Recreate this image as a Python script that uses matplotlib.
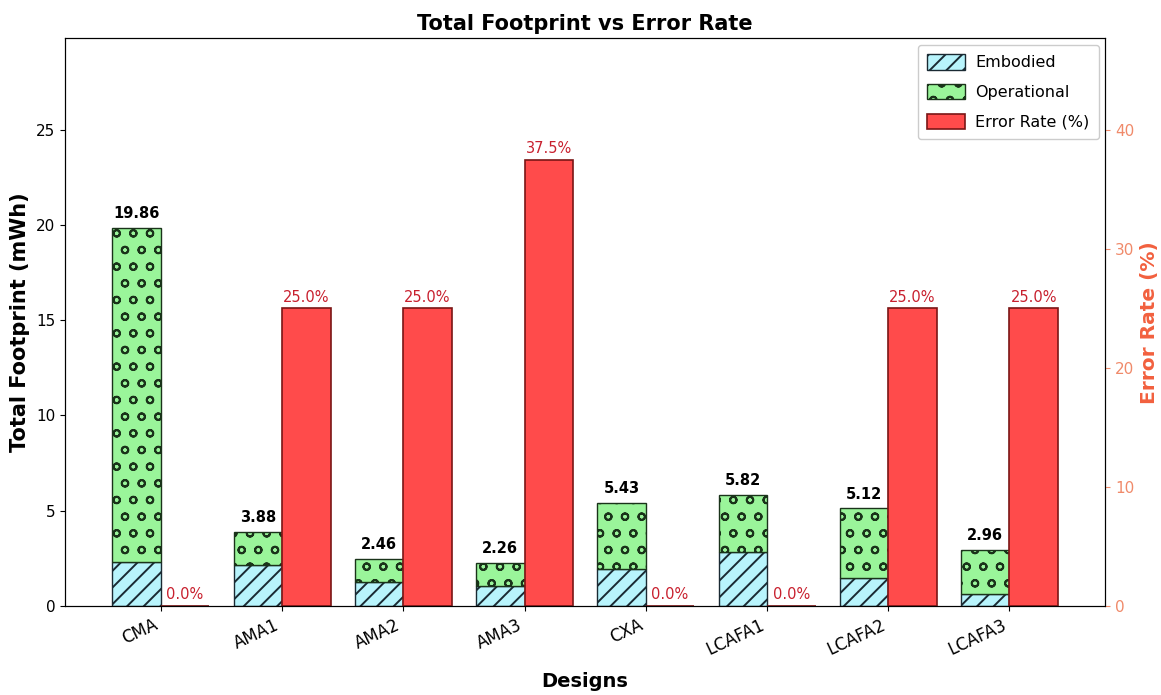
import matplotlib
matplotlib.use("Agg")
import matplotlib.pyplot as plt
import numpy as np

designs = ["CMA", "AMA1", "AMA2", "AMA3", "CXA", "LCAFA1", "LCAFA2", "LCAFA3"]
totals = [19.86, 3.88, 2.46, 2.26, 5.43, 5.82, 5.12, 2.96]
embodied = [2.30, 2.18, 1.25, 1.07, 1.97, 2.85, 1.46, 0.62]
operational = [t - e for t, e in zip(totals, embodied)]
error_rate = [0.0, 25.0, 25.0, 37.5, 0.0, 0.0, 25.0, 25.0]

plt.rcParams["hatch.linewidth"] = 1.4

x = np.arange(len(designs))
w = 0.4

fig, ax = plt.subplots(figsize=(11.61, 6.95), dpi=100)
fig.subplots_adjust(left=0.056, right=0.952, top=0.945, bottom=0.128)
ax2 = ax.twinx()

b1 = ax.bar(x - w / 2, embodied, w, color="#b8f4fc", edgecolor="#1a2a33",
            hatch="//", linewidth=1.0, label="Embodied")
b2 = ax.bar(x - w / 2, operational, w, bottom=embodied, color="#9af59a",
            edgecolor="#1a331a", hatch="o", linewidth=1.0, label="Operational")
b3 = ax2.bar(x + w / 2, error_rate, w, color="#ff4b4b", edgecolor="#7a1515",
             linewidth=1.2, label="Error Rate (%)")

for xi, t in zip(x, totals):
    ax.text(xi - w / 2, t + 0.35, f"{t:.2f}", ha="center", va="bottom",
            fontsize=10.5, fontweight="bold", color="black")
for xi, e in zip(x, error_rate):
    ax2.text(xi + w / 2, e + 0.3, f"{e:.1f}%", ha="center", va="bottom",
             fontsize=10.5, color="#c8202e")

ax.set_ylim(0, 29.8)
ax2.set_ylim(0, 47.7)
ax.set_xticks(x)
ax.set_xticklabels(designs, rotation=25, ha="right", fontsize=12)
ax.tick_params(axis="y", labelsize=11)
ax2.tick_params(axis="y", labelsize=11, colors="#f08a6a")
ax2.set_yticks([0, 10, 20, 30, 40])

ax.set_xlabel("Designs", fontsize=14, fontweight="bold", labelpad=10)
ax.set_ylabel("Total Footprint (mWh)", fontsize=15, fontweight="bold")
ax2.set_ylabel("Error Rate (%)", fontsize=14.5, fontweight="bold", color="#f2603e")
ax.set_title("Total Footprint vs Error Rate", fontsize=15, fontweight="bold")

ax2.legend([b1, b2, b3], ["Embodied", "Operational", "Error Rate (%)"],
           loc="upper right", fontsize=11.5, framealpha=1.0,
           handlelength=2.4, handleheight=1.1, handletextpad=0.6,
           labelspacing=0.85, borderpad=0.6, borderaxespad=0.4)

fig.savefig("out.png", dpi=100)
